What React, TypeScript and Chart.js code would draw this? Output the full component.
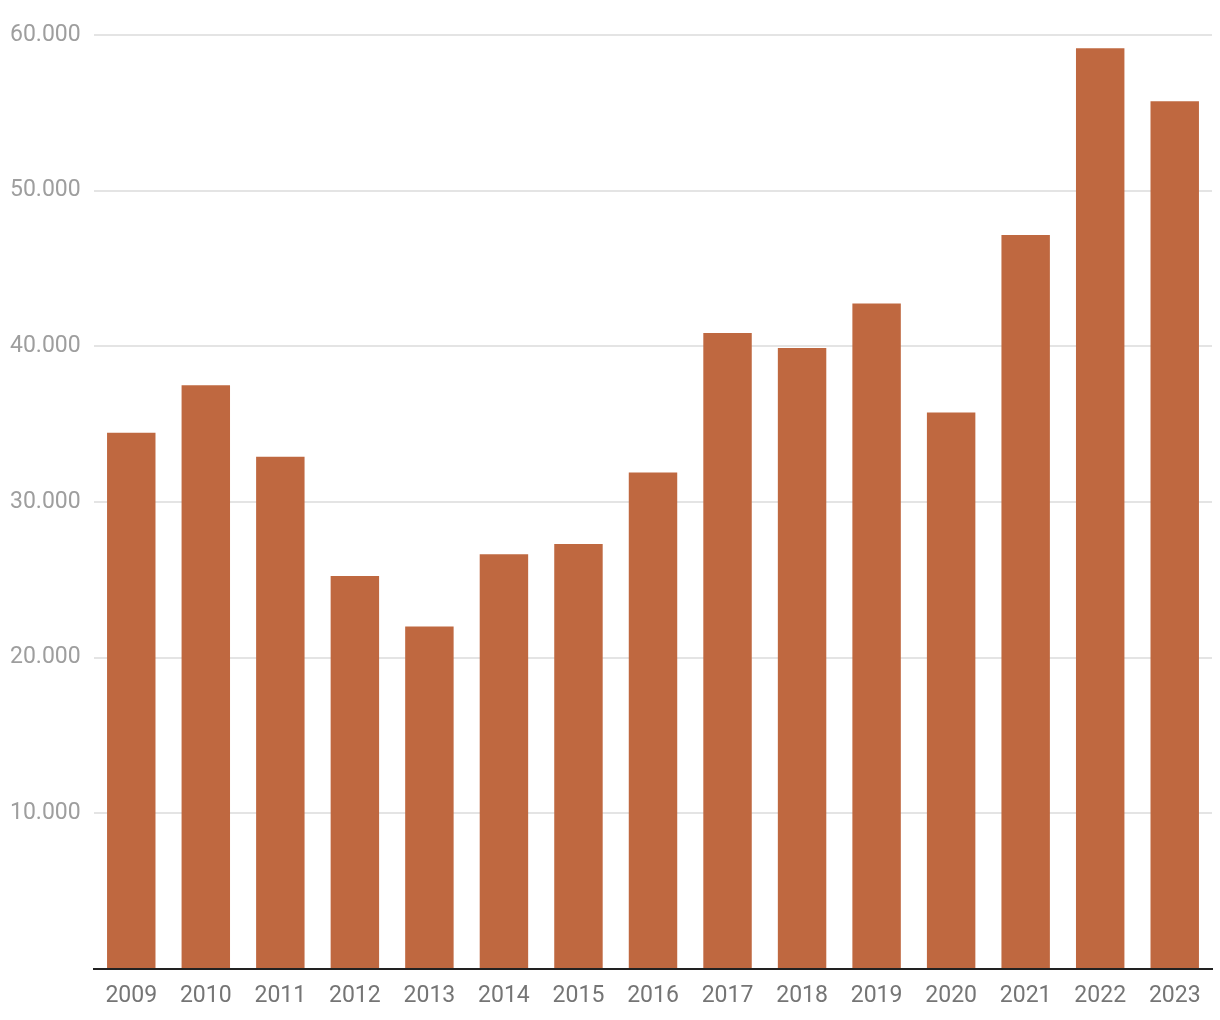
import React, { useEffect, useRef } from "react";
import { Chart, registerables } from "chart.js";

Chart.register(...registerables);

const years = ["2009","2010","2011","2012","2013","2014","2015","2016","2017","2018","2019","2020","2021","2022","2023"];
const values = [34450, 37500, 32900, 25250, 22000, 26650, 27300, 31900, 40850, 39900, 42750, 35750, 47150, 59150, 55750];
const yTicks = [0, 10000, 20000, 30000, 40000, 50000, 60000];

const fmt = (v: number) => (v === 0 ? "" : v.toLocaleString("de-DE"));

export default function App() {
  const ref = useRef<HTMLCanvasElement | null>(null);
  useEffect(() => {
    if (!ref.current) return;
    const chart = new Chart(ref.current, {
      type: "bar",
      data: {
        labels: years,
        datasets: [
          {
            data: values,
            backgroundColor: "#bf6840",
            categoryPercentage: 1,
            barPercentage: 0.65,
          },
        ],
      },
      options: {
        responsive: false,
        animation: false,
        layout: { padding: { left: 10, right: 8, top: 35, bottom: 0 } },
        plugins: { legend: { display: false }, tooltip: { enabled: false } },
        scales: {
          x: {
            grid: { display: false, drawTicks: false },
            border: { display: true, color: "#222222", width: 2 },
            ticks: {
              color: "#757575",
              font: { family: "Roboto", size: 23 },
              padding: 13,
              maxRotation: 0,
            },
            afterFit: (s: any) => { s.height = 51; },
          },
          y: {
            min: 0,
            max: 60000,
            afterBuildTicks: (s: any) => { s.ticks = yTicks.map((v) => ({ value: v })); },
            grid: { color: "#e4e4e4", lineWidth: 2, drawTicks: false },
            border: { display: false },
            ticks: {
              color: "#9e9e9e",
              font: { family: "Roboto", size: 23 },
              crossAlign: "far",
              padding: 0,
              callback: (v: any) => fmt(Number(v)),
            },
            afterFit: (s: any) => { s.width = 84; },
          },
        },
      },
    });
    return () => chart.destroy();
  }, []);
  return (
    <div style={{ position: "absolute", left: 0, top: 0, width: 1220, height: 1020, background: "#fff" }}>
      <canvas ref={ref} width={1220} height={1020} />
    </div>
  );
}
